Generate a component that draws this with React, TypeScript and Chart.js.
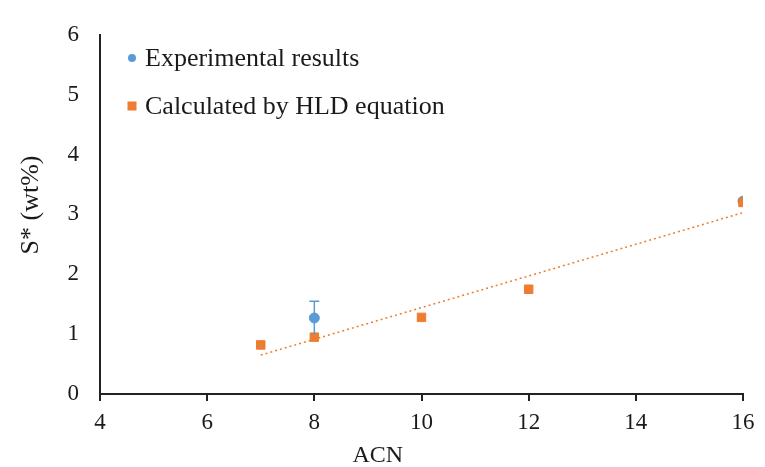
import React, { useEffect, useRef } from "react";
import { Chart, registerables } from "chart.js";

Chart.register(...registerables);

const expX = [8, 16];
const expY = [1.27, 3.22];
const expErr = [0.28, 0];
const calcX = [7, 8, 10, 12, 16];
const calcY = [0.82, 0.95, 1.28, 1.75, 3.2];
const trendX = [7, 16];
const trendY = [0.65, 3.03];
const legendLabels = ["Experimental results", "Calculated by HLD equation"];
const xTitle = "ACN";
const yTitle = "S* (wt%)";

const BLUE = "#5B9BD5";
const ORANGE = "#ED7D31";
const FONT = "'Liberation Serif', 'Times New Roman', serif";

const errorBarPlugin = {
  id: "errorBars",
  afterDatasetsDraw(chart: any) {
    const { ctx, scales } = chart;
    const xs = scales.x;
    const ys = scales.y;
    ctx.save();
    ctx.strokeStyle = BLUE;
    ctx.lineWidth = 1.5;
    expX.forEach((xv, i) => {
      const e = expErr[i];
      if (!e) return;
      const px = xs.getPixelForValue(xv);
      const top = ys.getPixelForValue(expY[i] + e);
      const bot = ys.getPixelForValue(expY[i] - e);
      ctx.beginPath();
      ctx.moveTo(px, top);
      ctx.lineTo(px, bot);
      ctx.moveTo(px - 5, top);
      ctx.lineTo(px + 5, top);
      ctx.stroke();
    });
    ctx.restore();
  },
};

const legendPlugin = {
  id: "insideLegend",
  afterDraw(chart: any) {
    const { ctx, chartArea } = chart;
    ctx.save();
    const x0 = chartArea.left + 32;
    const ys = [58, 106];
    ctx.fillStyle = BLUE;
    ctx.beginPath();
    ctx.arc(x0, ys[0], 4, 0, Math.PI * 2);
    ctx.fill();
    ctx.fillStyle = ORANGE;
    ctx.fillRect(x0 - 4.5, ys[1] - 4.5, 9, 9);
    ctx.fillStyle = "#1a1a1a";
    ctx.font = `26px ${FONT}`;
    ctx.textBaseline = "middle";
    ctx.textAlign = "left";
    ctx.fillText(legendLabels[0], x0 + 13, ys[0] + 1);
    ctx.fillText(legendLabels[1], x0 + 13, ys[1] + 1);
    // x-axis title
    ctx.font = `24px ${FONT}`;
    ctx.textAlign = "center";
    ctx.fillText(xTitle, chartArea.left + chartArea.width * 0.432, 456);
    // y-axis title
    ctx.font = `26px ${FONT}`;
    ctx.translate(31, 205);
    ctx.rotate(-Math.PI / 2);
    ctx.fillText(yTitle, 0, 0);
    ctx.restore();
  },
};

export default function App() {
  const ref = useRef<HTMLCanvasElement>(null);
  useEffect(() => {
    document.body.style.margin = "0";
    const chart = new Chart(ref.current!, {
      type: "scatter",
      data: {
        datasets: [
          {
            type: "line",
            label: "trend",
            data: trendX.map((x, i) => ({ x, y: trendY[i] })),
            borderColor: ORANGE,
            borderWidth: 1.5,
            borderDash: [2, 3],
            pointRadius: 0,
            fill: false,
            order: 3,
          } as any,
          {
            label: legendLabels[0],
            data: expX.map((x, i) => ({ x, y: expY[i] })),
            backgroundColor: BLUE,
            borderColor: BLUE,
            pointStyle: "circle",
            pointRadius: 5,
            order: 2,
          },
          {
            label: legendLabels[1],
            data: calcX.map((x, i) => ({ x, y: calcY[i] })),
            backgroundColor: ORANGE,
            borderColor: ORANGE,
            pointStyle: "rect",
            pointRadius: 6,
            order: 1,
          },
        ],
      },
      options: {
        animation: false,
        responsive: false,
        layout: { padding: { top: 26, right: 22, left: 0, bottom: 0 } },
        plugins: { legend: { display: false }, tooltip: { enabled: false } },
        scales: {
          x: {
            type: "linear",
            min: 4,
            max: 16,
            afterFit(s: any) {
              s.height = 73;
            },
            ticks: {
              stepSize: 2,
              color: "#1a1a1a",
              font: { family: FONT, size: 23 },
              padding: 8,
            },
            grid: {
              display: true,
              drawOnChartArea: false,
              drawTicks: true,
              tickLength: 7,
              color: "#222",
              lineWidth: 2,
            },
            border: { display: true, color: "#222", width: 2 },
            title: { display: false },
          },
          y: {
            type: "linear",
            min: 0,
            max: 6,
            afterFit(s: any) {
              s.width = 100;
            },
            ticks: {
              stepSize: 1,
              color: "#1a1a1a",
              font: { family: FONT, size: 23 },
              padding: 21,
            },
            grid: {
              display: true,
              drawOnChartArea: false,
              drawTicks: false,
            },
            border: { display: true, color: "#222", width: 2 },
            title: { display: false },
          },
        },
      },
      plugins: [errorBarPlugin, legendPlugin],
    });
    return () => chart.destroy();
  }, []);
  return <canvas ref={ref} width={765} height={467} style={{ display: "block" }} />;
}
